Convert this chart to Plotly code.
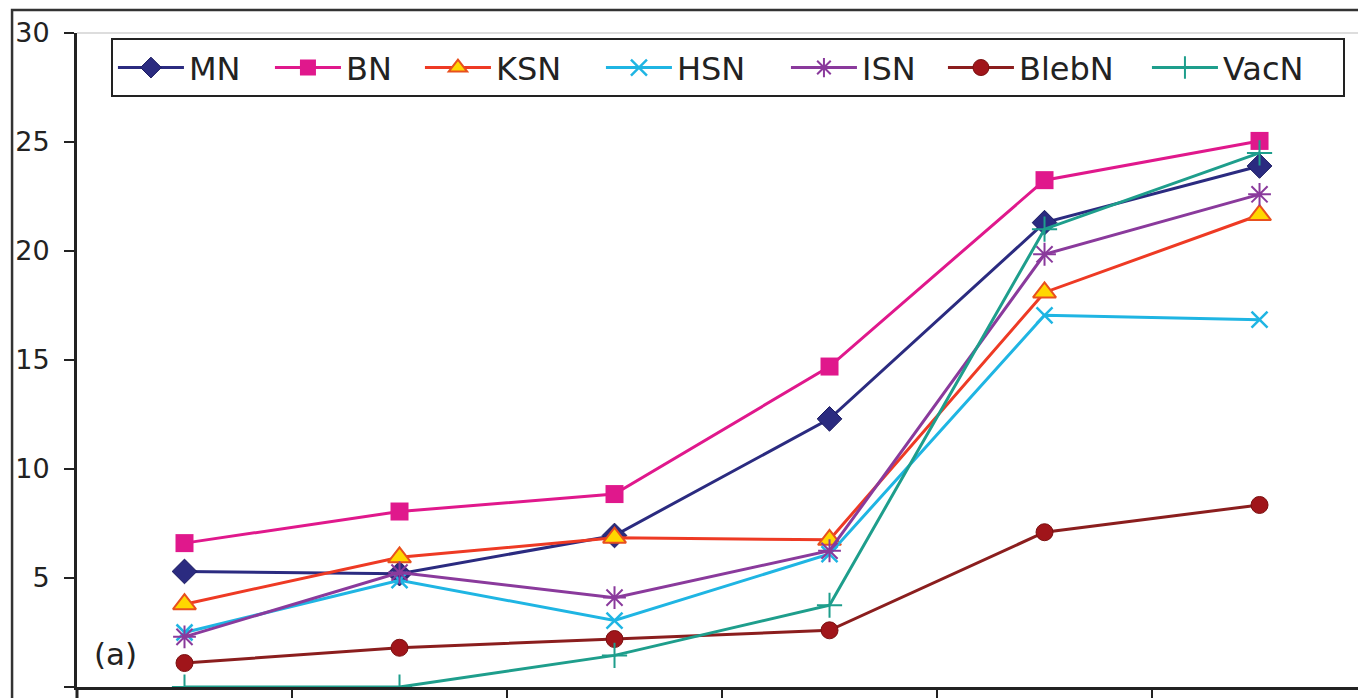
import plotly.graph_objects as go

categories = [0, 1, 2, 3, 4, 5]
MN = [5.3, 5.2, 6.95, 12.3, 21.3, 23.9]
BN = [6.6, 8.05, 8.85, 14.7, 23.25, 25.05]
KSN = [3.8, 5.95, 6.85, 6.75, 18.1, 21.65]
HSN = [2.5, 4.9, 3.05, 6.1, 17.05, 16.85]
ISN = [2.3, 5.25, 4.1, 6.25, 19.85, 22.6]
BlebN = [1.1, 1.8, 2.2, 2.6, 7.1, 8.35]
VacN = [0, 0, 1.45, 3.75, 21.0, 24.5]
y_ticks = [0, 5, 10, 15, 20, 25, 30]

series = [
    ("MN", MN, dict(symbol="diamond", size=19, color="#2B2B80", line=dict(width=1, color="#1a1a60")), "#2B2B80", 76),
    ("BN", BN, dict(symbol="square", size=18, color="#E0188C", line=dict(width=0)), "#E0188C", 69),
    ("KSN", KSN, dict(symbol="triangle-up", size=20, color="#FFD700", line=dict(width=2, color="#E8501E")), "#EE3A24", 100),
    ("HSN", HSN, dict(symbol="x-thin", size=16, color="#1FB5E3", line=dict(width=2.5, color="#1FB5E3")), "#1FB5E3", 104),
    ("ISN", ISN, dict(symbol="asterisk", size=19, color="#8A3A9C", line=dict(width=2, color="#8A3A9C")), "#8A3A9C", 76),
    ("BlebN", BlebN, dict(symbol="circle", size=17, color="#A0151A", line=dict(width=1, color="#7a1010")), "#8B1E1E", 123),
    ("VacN", VacN, dict(symbol="cross-thin", size=18, color="#1E9E8C", line=dict(width=2, color="#1E9E8C")), "#1E9E8C", 115),
]

fig = go.Figure()
for name, vals, marker, lc, lw in series:
    fig.add_trace(go.Scatter(
        x=categories, y=vals, name=name, mode="lines+markers",
        line=dict(color=lc, width=3), marker=marker, legendwidth=lw,
    ))

fig.update_layout(
    width=1358, height=698,
    margin=dict(l=77, r=0, t=33, b=11),
    paper_bgcolor="white", plot_bgcolor="white",
    font=dict(family="DejaVu Sans, sans-serif", size=26, color="#222"),
    showlegend=True,
    legend=dict(
        orientation="h", x=0.0265, y=0.992, xanchor="left", yanchor="top",
        bordercolor="#222", borderwidth=2, bgcolor="white",
        font=dict(family="DejaVu Sans, sans-serif", size=32, color="#222"), itemwidth=66,
    ),
    xaxis=dict(
        range=[-0.5, 5.458], showgrid=False, zeroline=False,
        tickvals=[0.5, 1.5, 2.5, 3.5, 4.5], ticktext=["", "", "", "", ""],
        ticks="outside", ticklen=10, tickwidth=2, tickcolor="#222",
        showline=True, linecolor="#222", linewidth=3,
    ),
    yaxis=dict(
        range=[0, 30], tickvals=y_ticks, showgrid=False, zeroline=False,
        ticks="outside", ticklen=10, tickwidth=2, tickcolor="#222",
        showline=True, linecolor="#222", linewidth=3,
        tickfont=dict(family="DejaVu Sans, sans-serif", size=27, color="#222"),
        ticklabelstandoff=9,
    ),
    annotations=[dict(
        x=0.0115, y=0.02, xref="paper", yref="paper", xanchor="left", yanchor="bottom",
        text="(a)", showarrow=False, font=dict(family="DejaVu Sans, sans-serif", size=31, color="#222"),
    )],
    shapes=[
        dict(type="rect", xref="paper", yref="paper", x0=-0.0507, x1=1.05, y0=-0.05, y1=1.0352,
             line=dict(color="#333", width=2.5), fillcolor="rgba(0,0,0,0)", layer="above"),
        dict(type="line", xref="paper", yref="paper", x0=0, x1=1.0, y0=1.0, y1=1.0,
             line=dict(color="#bbb", width=1)),
        dict(type="line", xref="paper", yref="paper", x0=0, x1=0, y0=-0.03, y1=0,
             line=dict(color="#222", width=3)),
    ],
)

fig.write_html(
    "out.html",
    config={"displayModeBar": False},
    post_script="document.body.style.margin='0';document.body.style.overflow='hidden';",
)
